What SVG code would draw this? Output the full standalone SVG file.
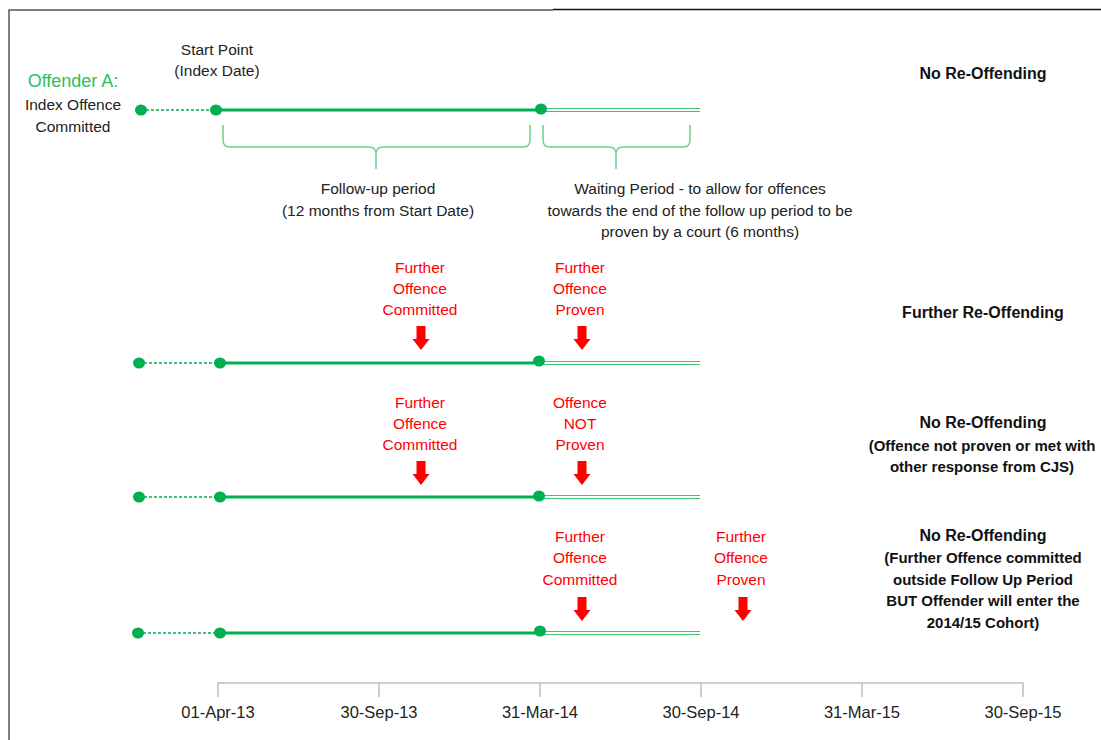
<svg xmlns="http://www.w3.org/2000/svg" width="1101" height="740" viewBox="0 0 1101 740">
<style>
.t{font-family:"Liberation Sans",Arial,sans-serif;font-size:15.5px;fill:#222;text-anchor:middle}
.b{font-weight:bold;fill:#111;font-size:16px}
.s{font-size:15px}
.r{fill:#ff0000}
.g{fill:#2bbf5f;font-size:18px}
.d{font-size:16.5px}
.main{stroke:#00b050;stroke-width:3;fill:none}
.dash{stroke:#00b050;stroke-width:1.5;stroke-dasharray:3 2;fill:none}
.dbl{stroke:#3cc46c;stroke-width:1.2;fill:none}
.br{stroke:#6fd08c;stroke-width:1.5;fill:none}
.dot{fill:#00b050}
.ar{fill:#ff0000}
.ax{stroke:#bfbfbf;stroke-width:1.5;fill:none}
</style>
<defs>
<path id="arrow" d="M-4.5,0 H4.5 V13 H8.5 L0,24 L-8.5,13 H-4.5 Z"/>
</defs>
<rect width="1101" height="740" fill="#fff"/>
<g id="frame">
<path d="M9,740 V10 H553" stroke="#555" stroke-width="1.5" fill="none"/>
<path d="M553,9.5 H1101" stroke="#111" stroke-width="1.5" fill="none"/>
</g>

<g id="connectors">
<line class="dash" x1="141" y1="110" x2="216" y2="110"/>
<line class="main" x1="216" y1="110" x2="541" y2="110"/>
<line class="dbl" x1="541" y1="108.5" x2="700" y2="108.5"/>
<line class="dbl" x1="541" y1="111.5" x2="700" y2="111.5"/>
<line class="dash" x1="139" y1="363" x2="220" y2="363"/>
<line class="main" x1="220" y1="363" x2="539" y2="363"/>
<line class="dbl" x1="539" y1="361.5" x2="700" y2="361.5"/>
<line class="dbl" x1="539" y1="364.5" x2="700" y2="364.5"/>
<line class="dash" x1="139" y1="497" x2="220" y2="497"/>
<line class="main" x1="220" y1="497" x2="539" y2="497"/>
<line class="dbl" x1="539" y1="495.5" x2="700" y2="495.5"/>
<line class="dbl" x1="539" y1="498.5" x2="700" y2="498.5"/>
<line class="dash" x1="138" y1="633" x2="220" y2="633"/>
<line class="main" x1="220" y1="633" x2="540" y2="633"/>
<line class="dbl" x1="540" y1="631.5" x2="700" y2="631.5"/>
<line class="dbl" x1="540" y1="634.5" x2="700" y2="634.5"/>
</g>

<g id="row1">
<ellipse class="dot" cx="141" cy="110" rx="6" ry="5.5"/>
<ellipse class="dot" cx="216" cy="110" rx="6" ry="5.5"/>
<ellipse class="dot" cx="541" cy="109" rx="6" ry="5.5"/>
<text class="t g" x="73" y="87">Offender A:</text>
<text class="t" x="73" y="110">Index Offence</text>
<text class="t" x="73" y="132">Committed</text>
<text class="t" x="217" y="55">Start Point</text>
<text class="t" x="217" y="76">(Index Date)</text>
<text class="t b" x="983" y="79">No Re-Offending</text>
</g>

<g id="bracket-followup">
<path class="br" d="M223,125 V140 Q223,147 230,147 H369 Q376,147 376,154 V169 M376,154 Q376,147 383,147 H523 Q530,147 530,140 V125"/>
<text class="t" x="378" y="194">Follow-up period</text>
<text class="t" x="378" y="216">(12 months from Start Date)</text>
</g>

<g id="bracket-waiting">
<path class="br" d="M543,125 V140 Q543,147 550,147 H609 Q616,147 616,154 V169 M616,154 Q616,147 623,147 H683 Q690,147 690,140 V125"/>
<text class="t" x="700" y="194">Waiting Period - to allow for offences</text>
<text class="t" x="700" y="216">towards the end of the follow up period to be</text>
<text class="t" x="700" y="237">proven by a court (6 months)</text>
</g>

<g id="row2">
<ellipse class="dot" cx="139" cy="363" rx="6" ry="5.5"/>
<ellipse class="dot" cx="220" cy="363" rx="6" ry="5.5"/>
<ellipse class="dot" cx="539" cy="361" rx="6" ry="5.5"/>
<text class="t r" x="420" y="273">Further</text>
<text class="t r" x="420" y="294">Offence</text>
<text class="t r" x="420" y="315">Committed</text>
<use href="#arrow" class="ar" x="421" y="326"/>
<text class="t r" x="580" y="273">Further</text>
<text class="t r" x="580" y="294">Offence</text>
<text class="t r" x="580" y="315">Proven</text>
<use href="#arrow" class="ar" x="582" y="326"/>
<text class="t b" x="983" y="318">Further Re-Offending</text>
</g>

<g id="row3">
<ellipse class="dot" cx="139" cy="497" rx="6" ry="5.5"/>
<ellipse class="dot" cx="220" cy="497" rx="6" ry="5.5"/>
<ellipse class="dot" cx="539" cy="496" rx="6" ry="5.5"/>
<text class="t r" x="420" y="408">Further</text>
<text class="t r" x="420" y="429">Offence</text>
<text class="t r" x="420" y="450">Committed</text>
<use href="#arrow" class="ar" x="421" y="461"/>
<text class="t r" x="580" y="408">Offence</text>
<text class="t r" x="580" y="429">NOT</text>
<text class="t r" x="580" y="450">Proven</text>
<use href="#arrow" class="ar" x="582" y="461"/>
<text class="t b" x="983" y="428">No Re-Offending</text>
<text class="t b s" x="982" y="451">(Offence not proven or met with</text>
<text class="t b s" x="982" y="472">other response from CJS)</text>
</g>

<g id="row4">
<ellipse class="dot" cx="138" cy="633" rx="6" ry="5.5"/>
<ellipse class="dot" cx="220" cy="633" rx="6" ry="5.5"/>
<ellipse class="dot" cx="540" cy="631" rx="6" ry="5.5"/>
<text class="t r" x="580" y="542">Further</text>
<text class="t r" x="580" y="563">Offence</text>
<text class="t r" x="580" y="585">Committed</text>
<use href="#arrow" class="ar" x="582" y="597"/>
<text class="t r" x="741" y="542">Further</text>
<text class="t r" x="741" y="563">Offence</text>
<text class="t r" x="741" y="585">Proven</text>
<use href="#arrow" class="ar" x="743" y="597"/>
<text class="t b" x="983" y="541">No Re-Offending</text>
<text class="t b s" x="983" y="563">(Further Offence committed</text>
<text class="t b s" x="983" y="585">outside Follow Up Period</text>
<text class="t b s" x="983" y="606">BUT Offender will enter the</text>
<text class="t b s" x="983" y="628">2014/15 Cohort)</text>
</g>

<g id="axis">
<path class="ax" d="M218,697 V683 H1023 V697 M379,683 V697 M540,683 V697 M701,683 V697 M862,683 V697"/>
<text class="t d" x="218" y="718">01-Apr-13</text>
<text class="t d" x="379" y="718">30-Sep-13</text>
<text class="t d" x="540" y="718">31-Mar-14</text>
<text class="t d" x="701" y="718">30-Sep-14</text>
<text class="t d" x="862" y="718">31-Mar-15</text>
<text class="t d" x="1023" y="718">30-Sep-15</text>
</g>
</svg>
